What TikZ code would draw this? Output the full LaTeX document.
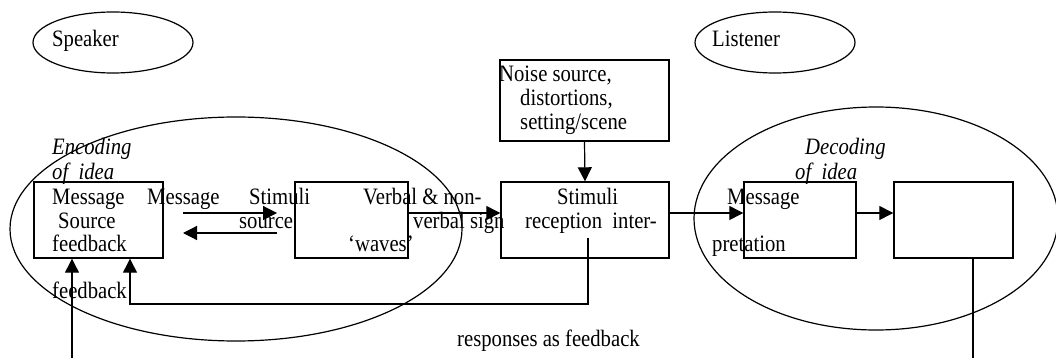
\documentclass[tikz,border=0pt]{standalone}
\usepackage{fontspec}
\setmainfont[FakeStretch=0.88]{Liberation Serif}
\usetikzlibrary{arrows.meta,shapes.geometric}
\tikzset{
  boxnode/.style={draw,line width=1.4pt,minimum width=#1,inner sep=0pt,minimum height=76pt},
  ovalnode/.style={draw,ellipse,line width=1.2pt,inner sep=0pt},
  lbl/.style={anchor=base west,inner sep=0pt,font=\fontsize{23.5}{24}\selectfont},
  ilbl/.style={lbl,font=\fontsize{23.5}{24}\selectfont\itshape},
  conn/.style={line width=1.2pt},
  arr/.style={conn,-{Triangle[length=14pt,width=14pt]}}
}
\begin{document}
\begin{tikzpicture}[x=1pt,y=-1pt]
\useasboundingbox (0,0) rectangle (1056,358);
% ellipses
\node[ovalnode,minimum width=160pt,minimum height=61pt] (spk) at (113,42.5) {};
\node[ovalnode,minimum width=160pt,minimum height=61pt] (lst) at (775,42.5) {};
\node[ovalnode,minimum width=452pt,minimum height=224pt] (enc) at (236,229) {};
\node[ovalnode,minimum width=364pt,minimum height=223pt] (dec) at (876,218.5) {};
% boxes
\node[boxnode=169pt,minimum height=81pt] (nbox) at (584.5,100.5) {};
\node[boxnode=129pt] (lbox) at (98.5,220) {};
\node[boxnode=113pt] (wbox) at (351.5,220) {};
\node[boxnode=168pt] (sbox) at (585,220) {};
\node[boxnode=112pt] (r1box) at (800,220) {};
\node[boxnode=119pt] (r2box) at (953.5,220) {};
% texts
\node[lbl] (tspk) at (52,47) {Speaker};
\node[lbl] (tlst) at (712,47) {Listener};
\node[lbl] (tn1) at (499,82) {Noise source,};
\node[lbl] (tn2) at (520,106) {distortions,};
\node[lbl] (tn3) at (520,130) {setting/scene};
\node[ilbl] (tenc1) at (52,155) {Encoding};
\node[ilbl] (tenc2) at (52,179) {of\ \ idea};
\node[lbl] (tm1) at (52,204) {Message};
\node[lbl] (ts1) at (58,228) {Source};
\node[lbl] (tf1) at (52,251) {feedback};
\node[lbl] (tm2) at (147,204) {Message};
\node[lbl] (tst1) at (249,204) {Stimuli};
\node[lbl] (tso) at (239,228) {source};
\node[lbl] (tvb1) at (363,204) {Verbal \& non-};
\node[lbl] (tvb2) at (413,228) {verbal sign};
\node[lbl] (twav) at (348,251) {‘waves’};
\node[lbl] (tst2) at (557,204) {Stimuli};
\node[lbl] (trec) at (525,228) {reception\ \ inter-};
\node[lbl] (tm3) at (727,204) {Message};
\node[lbl] (tpre) at (712,251) {pretation};
\node[ilbl] (tdec1) at (805,155) {Decoding};
\node[ilbl] (tdec2) at (795,179) {of\ \ idea};
\node[lbl] (tfb) at (52,298) {feedback};
\node[lbl] (tresp) at (457,346) {responses as feedback};
% coordinates
\coordinate (a1s) at (183,213);
\coordinate (a1e) at (277,213);
\coordinate (a2s) at (277,233);
\coordinate (a2e) at (183,233);
\coordinate (fbs) at (588,238);
\coordinate (fbl) at (130,304);
\coordinate (bl) at (72,358);
\coordinate (br) at (973,358);
% connectors
\draw[arr] (a1s) -- (a1e);
\draw[arr] (a2s) -- (a2e);
\draw[arr] (wbox.east |- a1s) -- (sbox.west |- a1s);
\draw[arr] (nbox.south) -- (sbox.north);
\draw[arr] (sbox.east |- a1s) -- (r1box.west |- a1s);
\draw[arr] (r1box.east |- a1s) -- (r2box.west |- a1s);
\draw[conn] (br |- r2box.south) -- (br);
\draw[arr] (fbs) |- (fbl) -- (fbl |- lbox.south);
\draw[arr] (bl) -- (bl |- lbox.south);
\end{tikzpicture}
\end{document}
